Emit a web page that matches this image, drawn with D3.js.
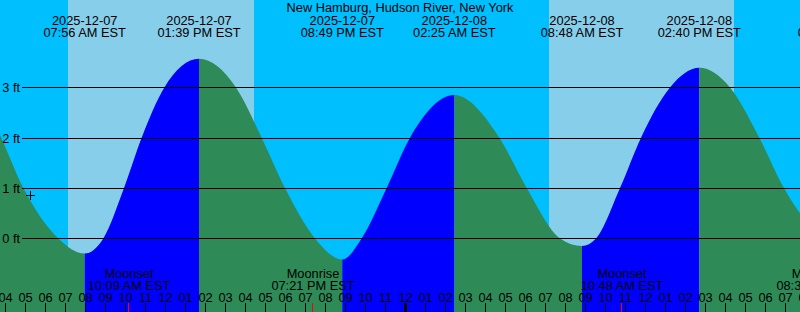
<!DOCTYPE html>
<html lang="en">
<head>
  <meta charset="utf-8">
  <title>New Hamburg tide graph</title>
  <style>
    html,body{margin:0;background:#00BFFF}
    svg{display:block}
    text{font-family:"Liberation Sans",Arial,sans-serif;font-size:12.8px;fill:#000}
    .grid{stroke:#000;stroke-width:1;shape-rendering:crispEdges}
    .tick{stroke:#000;shape-rendering:crispEdges}
    .tick.moon{stroke:#FF0000}
  </style>
  <script src="https://d3js.org/d3.v7.min.js"></script>
</head>
<body>
<svg id="chart" width="800" height="312"></svg>
<script>
  // --- data ---
  const station='New Hamburg, Hudson River, New York';
  const extremeTimes=['2025-12-07 07:56','2025-12-07 13:39','2025-12-07 20:49','2025-12-08 02:25','2025-12-08 08:48','2025-12-08 14:40','2025-12-08 21:40'];
  const extremeHeights=[-0.30,3.57,-0.42,2.85,-0.15,3.39,-0.20];
  const extremeKinds=['L','H','L','H','L','H','L'];

  const curveTimes=['2025-12-07 03:00','2025-12-07 03:42','2025-12-07 04:52','2025-12-07 06:37','2025-12-07 08:52','2025-12-07 09:54','2025-12-07 10:47','2025-12-07 11:55','2025-12-07 15:30','2025-12-07 16:47','2025-12-07 17:57','2025-12-07 19:27','2025-12-07 21:47','2025-12-07 23:02','2025-12-08 00:12','2025-12-08 04:40','2025-12-08 06:02','2025-12-08 07:42','2025-12-08 09:30','2025-12-08 10:42','2025-12-08 11:45','2025-12-08 13:12','2025-12-08 16:12','2025-12-08 17:40','2025-12-08 18:54','2025-12-08 19:42','2025-12-08 20:30'];
  const curveHeights=[2.6,2.05,1.0,0.0,0.0,1.0,2.0,3.0,3.0,2.0,1.0,0.0,0.0,1.0,2.0,2.0,1.0,0.0,0.0,1.0,2.0,3.0,3.0,2.0,1.0,0.5,0.15];

  const sunriseTimes=['2025-12-07 07:06','2025-12-08 07:09'];
  const sunsetTimes=['2025-12-07 16:24','2025-12-08 16:24'];

  const moonEvents=['Moonset','Moonrise','Moonset','Moonrise'];
  const moonTimes=['2025-12-07 10:09','2025-12-07 19:21','2025-12-08 10:48','2025-12-08 20:36'];

  const levelTicks=[0,1,2,3];
  const nowTime='2025-12-07 05:15',nowHeight=0.87;
  const viewStart='2025-12-07 03:42',viewEnd='2025-12-08 19:42';

  // --- setup ---
  const W=800,H=312;
  const parse=d3.timeParse('%Y-%m-%d %H:%M');
  const x=d3.scaleTime().domain([parse(viewStart),parse(viewEnd)]).range([0,W]);
  const y=d3.scaleLinear().domain([0,3]).range([238.4,87.4]);

  const svg=d3.select('#chart');

  // day / night background
  svg.append('rect').attr('width',W).attr('height',H).attr('fill','#00BFFF');
  svg.append('g').selectAll('rect').data(sunriseTimes).enter().append('rect')
     .attr('x',(d,i)=>x(parse(d))).attr('y',0)
     .attr('width',(d,i)=>x(parse(sunsetTimes[i]))-x(parse(d))).attr('height',H)
     .attr('fill','#87CEEB');

  // tide curve: readings + extremes, sorted
  const pts=curveTimes.map((t,i)=>({t:parse(t),h:curveHeights[i]}))
     .concat(extremeTimes.map((t,i)=>({t:parse(t),h:extremeHeights[i]})))
     .sort((a,b)=>a.t-b.t);
  const area=d3.area().curve(d3.curveMonotoneX).x(d=>x(d.t)).y0(H).y1(d=>y(d.h));
  svg.append('clipPath').attr('id','tideClip').append('path').attr('d',area(pts));

  // rising (blue) / falling (green) segments between extremes
  const bounds=[pts[0].t].concat(extremeTimes.map(parse));
  svg.append('g').attr('clip-path','url(#tideClip)').selectAll('rect')
     .data(extremeKinds).enter().append('rect')
     .attr('x',(d,i)=>x(bounds[i])).attr('y',0)
     .attr('width',(d,i)=>x(bounds[i+1])-x(bounds[i])).attr('height',H)
     .attr('fill',d=>d==='L'?'#2E8B57':'#0000FF');

  // level lines
  const grid=svg.append('g');
  grid.selectAll('line').data(levelTicks).enter().append('line').attr('class','grid')
      .attr('x1',22).attr('x2',W).attr('y1',d=>Math.round(y(d))+0.5).attr('y2',d=>Math.round(y(d))+0.5);
  grid.selectAll('text').data(levelTicks).enter().append('text')
      .attr('x',20).attr('y',d=>Math.round(y(d))+5).attr('text-anchor','end').text(d=>d+' ft');

  // current time mark
  const nx=Math.round(x(parse(nowTime)))-0.5,ny=Math.round(y(nowHeight))+0.5;
  svg.append('path').attr('class','tick').attr('fill','none')
     .attr('d',`M${nx-4.5},${ny}H${nx+4.5}M${nx},${ny-4.5}V${ny+4.5}`);

  // extreme labels on top
  const fDate=d3.timeFormat('%Y-%m-%d'),fTime=d3.timeFormat('%I:%M %p EST');
  const topLab=svg.append('g').selectAll('g').data(extremeTimes).enter().append('g')
     .attr('transform',d=>`translate(${x(parse(d))},0)`);
  topLab.append('text').attr('y',25).attr('text-anchor','middle').text(d=>fDate(parse(d)));
  topLab.append('text').attr('y',36.7).attr('text-anchor','middle').text(d=>fTime(parse(d)));
  svg.append('text').attr('x',W/2).attr('y',11.7).attr('text-anchor','middle').text(station);

  // moon events
  const moon=svg.append('g').selectAll('g').data(moonTimes).enter().append('g')
     .attr('transform',d=>`translate(${x(parse(d))},0)`);
  moon.append('text').attr('y',278.3).attr('text-anchor','middle').text((d,i)=>moonEvents[i]);
  moon.append('text').attr('y',290).attr('text-anchor','middle').text(d=>fTime(parse(d)));

  // hour ticks
  const hours=d3.timeHour.range(d3.timeHour.offset(x.domain()[0],-1),d3.timeHour.offset(x.domain()[1],2));
  const hx=d=>Math.round(x(d))-0.5;
  svg.append('g').selectAll('text').data(hours).enter().append('text')
     .attr('x',d=>x(d)-0.5).attr('y',302.3).attr('text-anchor','middle').text(d3.timeFormat('%I'));
  svg.append('g').selectAll('line').data(hours).enter().append('line').attr('class','tick')
     .attr('x1',hx).attr('x2',hx).attr('y1',303).attr('y2',H)
     .attr('stroke-width',d=>d.getHours()===0?3:1);
  svg.append('g').selectAll('line').data(moonTimes).enter().append('line').attr('class','tick moon')
     .attr('x1',d=>hx(parse(d))).attr('x2',d=>hx(parse(d))).attr('y1',303).attr('y2',H);
</script>
</body>
</html>
